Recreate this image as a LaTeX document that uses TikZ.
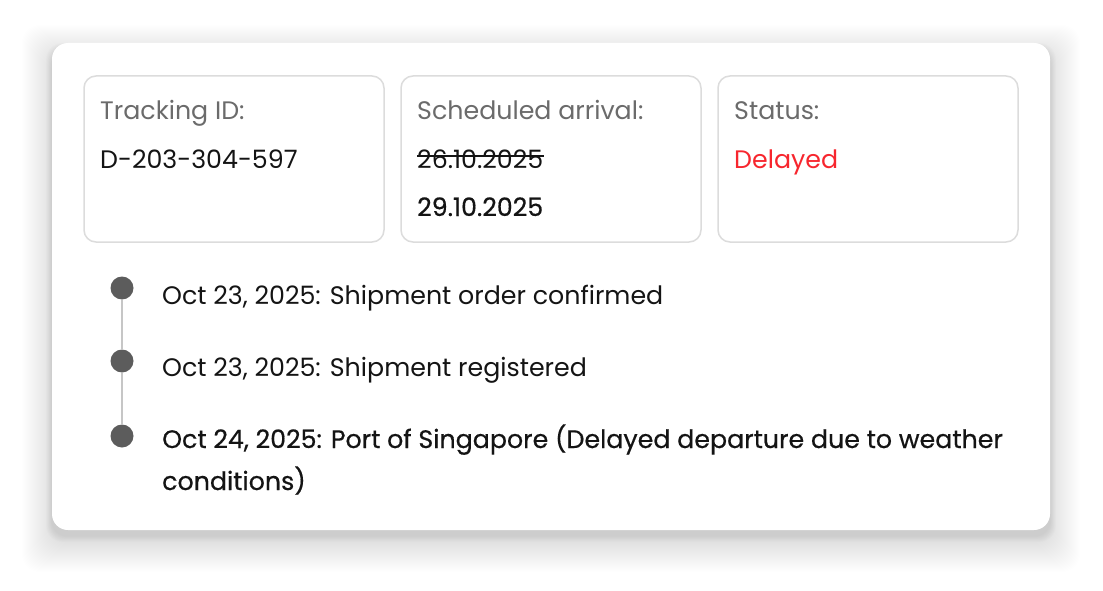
\documentclass[tikz,border=0pt]{standalone}
\usepackage{fontspec}
\setmainfont{Poppins}
\newfontfamily\medfont{Poppins}[FakeBold=0.5]
\usetikzlibrary{positioning,calc}

\definecolor{labelgray}{HTML}{6B6B6B}
\definecolor{valueblack}{HTML}{141414}
\definecolor{delayred}{HTML}{F7262E}
\definecolor{boxline}{HTML}{DCDCDC}
\definecolor{dotgray}{HTML}{5C5C5C}
\definecolor{stemgray}{HTML}{C6C6C6}

\tikzset{
card/.style={fill=white, rounded corners=16pt},
wideshadow/.style={fill=black, fill opacity=0.0025, rounded corners=18pt},
tightshadow/.style={fill=black, fill opacity=0.009, rounded corners=16pt},
infobox/.style={draw=boxline, line width=1.5pt, fill=white, rounded corners=12pt},
label/.style={anchor=base west, inner sep=0pt, text=labelgray, font=\fontsize{25.3}{30}\selectfont},
value/.style={anchor=base west, inner sep=0pt, text=valueblack, font=\fontsize{25.3}{30}\selectfont},
medvalue/.style={value, font=\fontsize{25.3}{30}\medfont},
event/.style={anchor=base west, inner sep=0pt, text=valueblack, font=\fontsize{25.3}{30}\selectfont},
medevent/.style={event, font=\fontsize{25.3}{30}\medfont},
tdot/.style={circle, fill=dotgray, minimum size=23pt, inner sep=0pt},
stem/.style={draw=stemgray, line width=1.8pt}
}

\begin{document}
\begin{tikzpicture}[x=1pt,y=-1pt]
\useasboundingbox (0,0) rectangle (1103,591);
\fill[white] (0,0) rectangle (1103,591);

%soft shadow under the card
\foreach \i in {1,...,30}
  \path[wideshadow] (52-\i,43+12-\i) rectangle (1050+\i,530+12+\i);
\foreach \i in {1,...,10}
  \path[tightshadow] (52-0.6*\i,43+6-0.6*\i) rectangle (1050+0.6*\i,530+6+0.6*\i);
%card
\path[card] (52,43) rectangle (1050,530);

%info boxes
\draw[infobox] (84,76) rectangle (384,242);
\draw[infobox] (401,76) rectangle (701,242);
\draw[infobox] (718,76) rectangle (1018,242);

% Text Node
\node[label] (idlabel) at (100,120) {Tracking ID:};
\node[value] (idvalue) at (100,168) {D-203-304-597};
\node[label] (arrlabel) at (417,120) {Scheduled arrival:};
\node[value] (oldarr) at (417,168) {26.10.2025};
\node[medvalue] (newarr) at (417,216) {29.10.2025};
\node[label] (statlabel) at (734,120) {Status:};
\node[value, text=delayred] (statvalue) at (734,168) {Delayed};
%strike through old date
\draw[valueblack, line width=1.4pt] ($(oldarr.base west)+(0,-12)$) -- ($(oldarr.base east)+(0,-12)$);

%timeline
\node[tdot] (dot1) at (122,288) {};
\node[tdot] (dot2) at (122,361) {};
\node[tdot] (dot3) at (122,436) {};
\draw[stem] (dot1) -- (dot2);
\draw[stem] (dot2) -- (dot3);

\node[event] (ev1) at (162,304) {Oct 23, 2025: Shipment order confirmed};
\node[event] (ev2) at (162,376) {Oct 23, 2025: Shipment registered};
\node[medevent] (ev3) at (162,448) {Oct 24, 2025: Port of Singapore (Delayed departure due to weather};
\node[medevent] (ev3b) at (162,490) {conditions)};

\end{tikzpicture}
\end{document}
